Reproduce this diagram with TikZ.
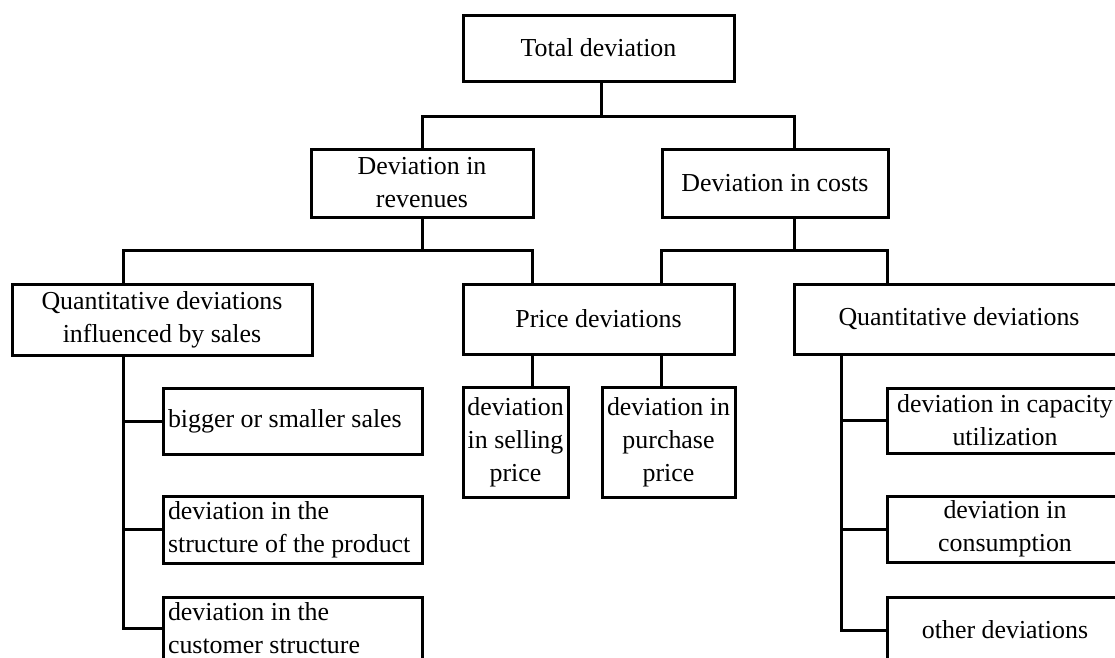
\documentclass[tikz,border=0pt]{standalone}
\usepackage{fontspec}
\setmainfont{Liberation Serif}
\begin{document}
\begin{tikzpicture}[x=1pt,y=-1pt,
  every node/.style={font=\fontsize{25.9}{33}\selectfont},
  box/.style={draw=black, line width=3pt, rectangle, inner sep=0pt, align=flush center},
  conn/.style={draw=black, line width=3pt, line join=miter}]
\useasboundingbox (0,0) rectangle (1115,657);
\fill[white] (0,0) rectangle (1115,657);
\clip (0,0) rectangle (1115,657);

% level 1
\node[box, minimum width=271pt, minimum height=66pt] (total) at (598.5,48) {Total deviation};
% level 2
\node[box, minimum width=222pt, minimum height=68pt] (rev) at (422,183) {Deviation in\\revenues};
\node[box, minimum width=226pt, minimum height=68pt] (cost) at (775,183) {Deviation in costs};
% level 3
\node[box, minimum width=300pt, minimum height=71pt] (qsales) at (162,319.5) {Quantitative deviations\\influenced by sales};
\node[box, minimum width=271pt, minimum height=70pt] (price) at (598.5,319) {Price deviations};
\node[box, minimum width=330pt, minimum height=70pt] (qdev) at (959,319) {Quantitative deviations};
% price children
\node[box, minimum width=105pt, minimum height=110pt] (sell) at (515.5,442) {deviation\\in selling\\price};
\node[box, minimum width=133pt, minimum height=110pt] (purch) at (668.5,442) {deviation in\\purchase\\price};
% left children
\node[box, minimum width=259pt, minimum height=66pt, text width=249pt, align=flush left] (bigger) at (292.5,421) {bigger or smaller sales};
\node[box, minimum width=259pt, minimum height=67pt, text width=249pt, align=flush left] (struct) at (292.5,529.5) {deviation in the\\structure of the product};
\node[box, minimum width=259pt, minimum height=63pt, text width=249pt, align=flush left] (cust) at (292.5,628.5) {deviation in the\\customer structure};
% right children
\node[box, minimum width=236pt, minimum height=65pt] (capac) at (1005,420.5) {deviation in capacity\\utilization};
\node[box, minimum width=236pt, minimum height=66pt] (consum) at (1005,529) {deviation in\\consumption};
\node[box, minimum width=236pt, minimum height=66pt] (other) at (1005,630) {other deviations};

% junctions
\coordinate (j1) at (601,116);
\coordinate (j2) at (422,250);
\coordinate (j3) at (794,250);

% connectors
\path[conn] ([xshift=2.5pt]total.south) -- (j1);
\path[conn] (rev.north) |- (j1) -| ([xshift=19pt]cost.north);

\path[conn] (rev.south) -- (j2);
\path[conn] ([xshift=-39pt]qsales.north) |- (j2) -| ([xshift=-66.5pt]price.north);

\path[conn] ([xshift=19pt]cost.south) -- (j3);
\path[conn] ([xshift=62.5pt]price.north) |- (j3) -| ([xshift=-72pt]qdev.north);

\path[conn] ([xshift=-66.5pt]price.south) -- ([xshift=16.5pt]sell.north);
\path[conn] ([xshift=62.5pt]price.south) -- ([xshift=-7.5pt]purch.north);

\coordinate (ls) at ([xshift=-39pt]qsales.south);
\path[conn] (ls) |- (cust.west);
\path[conn] (bigger.west) -- (bigger.west -| ls);
\path[conn] (struct.west) -- (struct.west -| ls);

\coordinate (rs) at ([xshift=-117.3pt]qdev.south);
\path[conn] (rs) |- (other.west);
\path[conn] (capac.west) -- (capac.west -| rs);
\path[conn] (consum.west) -- (consum.west -| rs);
\end{tikzpicture}
\end{document}
